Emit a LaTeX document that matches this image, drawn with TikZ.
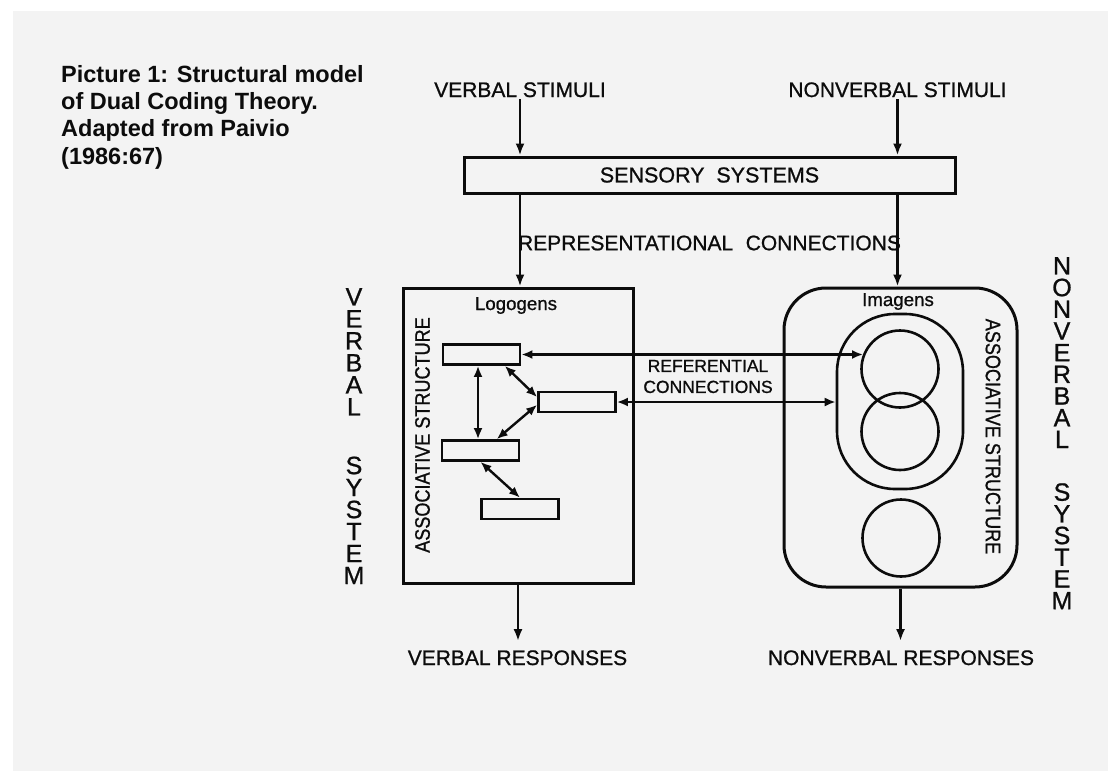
\documentclass[tikz,border=0pt]{standalone}
\usepackage{fontspec}
\setmainfont{Liberation Sans}
\newfontfamily\letterfont[FakeBold=0.9]{Liberation Sans}
\newfontfamily\narrowfont[FakeStretch=0.86, FakeBold=0.9]{Liberation Sans}
\usetikzlibrary{arrows.meta, positioning, calc}
\definecolor{pagegray}{RGB}{243,243,243}
\definecolor{ink}{RGB}{12,12,12}
\tikzset{
  lbl/.style={font=\letterfont\fontsize{21}{25}\selectfont, text=ink, inner sep=2pt},
  smalllbl/.style={font=\letterfont\fontsize{18.7}{22}\selectfont, text=ink, inner sep=1pt},
  reflbl/.style={font=\letterfont\fontsize{17.5}{21}\selectfont, text=ink, align=center, inner sep=0pt},
  structlbl/.style={font=\narrowfont\fontsize{21}{25}\selectfont, text=ink, inner sep=0pt},
  syslbl/.style={font=\letterfont\fontsize{25}{22}\selectfont, text=ink, align=center,
    inner sep=0pt, anchor=north},
  sysbox/.style={rectangle, draw=ink, line width=3pt, inner sep=0pt},
  logobox/.style={rectangle, draw=ink, line width=2.7pt,
    minimum width=77pt, minimum height=20pt, inner sep=0pt},
  imgcircle/.style={circle, draw=ink, line width=2.6pt, minimum size=77pt, inner sep=0pt},
  arrow/.style={-{Latex[length=12pt,width=9pt]}, line width=2.6pt, color=ink},
  dblarrow/.style={{Latex[length=11pt,width=9pt]}-{Latex[length=11pt,width=9pt]},
    line width=2.4pt, color=ink}
}

\begin{document}
\begin{tikzpicture}[x=1pt, y=-1pt]
  % ── Page background ───────────────────────────────────────────────────────
  \fill[white] (0,0) rectangle (1108,771);
  \fill[pagegray] (13,11) rectangle (1108,771);
  \useasboundingbox (0,0) rectangle (1108,771);

  % ── Caption ───────────────────────────────────────────────────────────────
  \node[anchor=north west, align=left, inner sep=0pt, text=ink,
    font=\bfseries\fontsize{23.5}{27.3}\selectfont] (caption) at (61,64.9)
    {Picture 1: Structural model\\of Dual Coding Theory.\\Adapted from Paivio\\(1986:67)};

  % ── Stimuli and sensory systems ──────────────────────────────────────────
  \node[lbl, anchor=base] (vstim) at (520,97) {VERBAL STIMULI};
  \node[lbl, anchor=base] (nvstim) at (897.5,97) {NONVERBAL STIMULI};
  \node[sysbox, minimum width=491pt, minimum height=36pt,
    font=\letterfont\fontsize{21.5}{25}\selectfont, text=ink] (sensory) at (709.5,175)
    {SENSORY\hspace{0.55em}SYSTEMS};
  \node[lbl] (repr) at (709.5,243) {REPRESENTATIONAL\hspace{0.6em}CONNECTIONS};

  % ── The two systems ───────────────────────────────────────────────────────
  \node[sysbox, minimum width=230pt, minimum height=295pt] (verbal) at (518,435.5) {};
  \node[sysbox, rounded corners=42pt, minimum width=233pt, minimum height=299pt]
    (nonverbal) at (900.5,437.5) {};
  \node[sysbox, line width=2.6pt, rounded corners=58pt, minimum width=126pt,
    minimum height=175pt] (imgstruct) at (900,401.5) {};

  \draw[arrow] (vstim.south) -- (vstim.south |- sensory.north);
  \draw[arrow] (nvstim.south) -- (nvstim.south |- sensory.north);
  \draw[arrow] (sensory.south -| vstim.south) -- (verbal.north -| vstim.south);
  \draw[arrow] (sensory.south -| nvstim.south) -- (nonverbal.north -| nvstim.south);

  % ── Logogens ──────────────────────────────────────────────────────────────
  \node[smalllbl, anchor=base] (logolbl) at (516,310) {Logogens};
  \node[logobox] (lg1) at (481.5,354.5) {};
  \node[logobox] (lg2) at (577,402) {};
  \node[logobox] (lg3) at (480.5,450.5) {};
  \node[logobox] (lg4) at (520,509) {};
  \draw[dblarrow] ([xshift=-3.5pt]lg1.south) -- ([xshift=-3.5pt]lg1.south |- lg3.north);
  \draw[dblarrow] (lg1.-26) -- (lg2.173);
  \draw[dblarrow] (lg2.184) -- (lg3.35);
  \draw[dblarrow] (lg3.south) -- (lg4.north);
  \node[structlbl, rotate=90] (vassoc) at (422.5,435) {ASSOCIATIVE STRUCTURE};

  % ── Imagens ───────────────────────────────────────────────────────────────
  \node[smalllbl, anchor=base] (imglbl) at (898,306) {Imagens};
  \node[imgcircle] (im1) at (900,369) {};
  \node[imgcircle] (im2) at (900,431.5) {};
  \node[imgcircle] (im3) at (901,538) {};
  \node[structlbl, rotate=-90] (nvassoc) at (993,436.5) {ASSOCIATIVE STRUCTURE};

  % ── Referential connections ───────────────────────────────────────────────
  \draw[dblarrow] (lg1.east) -- (lg1.east -| im1.158);
  \draw[dblarrow] (lg2.east) -- (lg2.east -| imgstruct.west);
  \node[reflbl] (reflbl) at (708,376.5) {REFERENTIAL\\CONNECTIONS};

  % ── System names ──────────────────────────────────────────────────────────
  \node[syslbl] (vsys) at (354,288) {V\\E\\R\\B\\A\\L\\[36.7pt]S\\Y\\S\\T\\E\\M};
  \node[syslbl, font=\letterfont\fontsize{25}{21.7}\selectfont] (nvsys) at (1062,257)
    {N\\O\\N\\V\\E\\R\\B\\A\\L\\[31pt]S\\Y\\S\\T\\E\\M};

  % ── Responses ─────────────────────────────────────────────────────────────
  \node[lbl, anchor=base] (vresp) at (517.5,665) {VERBAL RESPONSES};
  \node[lbl, anchor=base] (nvresp) at (901,665) {NONVERBAL RESPONSES};
  \draw[arrow, shorten >=7pt] (verbal.south) -- (verbal.south |- vresp.north);
  \draw[arrow, shorten >=7pt] (nonverbal.south) -- (nonverbal.south |- nvresp.north);
\end{tikzpicture}
\end{document}
